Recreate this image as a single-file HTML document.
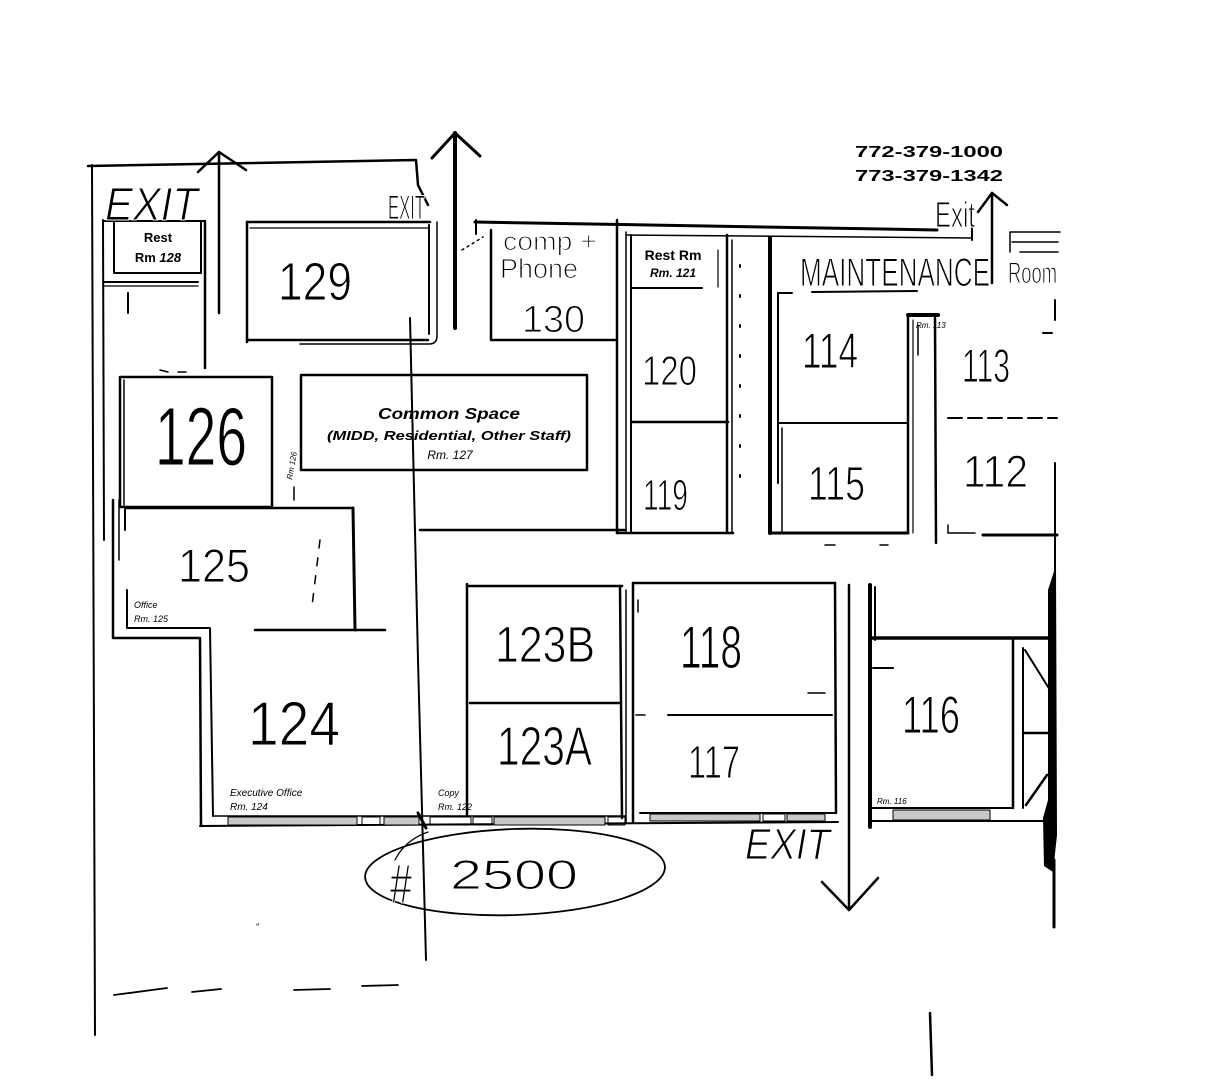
<!DOCTYPE html>
<html><head><meta charset="utf-8"><style>
html,body{margin:0;padding:0;background:#fff;}
svg{display:block}
text{font-family:"Liberation Sans",sans-serif;fill:#000}
.b{font-weight:bold}
.bi{font-weight:bold;font-style:italic}
.i{font-style:italic}
.hw{stroke:#fff;stroke-width:1.1px}
</style></head><body>
<svg width="1222" height="1080" viewBox="0 0 1222 1080" xmlns="http://www.w3.org/2000/svg">
<rect width="1222" height="1080" fill="#fff"/>
<g stroke="#000" fill="none" stroke-linecap="round" stroke-linejoin="round">
 <!-- left outer walls -->
 <path d="M92,165 L95,1035" stroke-width="2"/>
 <path d="M103,220 L104,540" stroke-width="2"/>
 <path d="M113,500 L113,638 L200,638 L201,826" stroke-width="2.5"/>
 <path d="M127,590 L127,628 L210,628 L213,816" stroke-width="2"/>
 <path d="M125,509 L125,530" stroke-width="2"/>
 <path d="M119,500 L119,560" stroke-width="1.5"/>
 <!-- top wall left -->
 <path d="M88,166 L416,160 L418,185 L428,205" stroke-width="2.5"/>
 <!-- exit arrow 1 -->
 <path d="M219,313 L219,152" stroke-width="2.5"/>
 <path d="M198,172 L219,152 L246,170" stroke-width="2.5"/>
 <!-- rest rm 128 -->
 <rect x="114" y="221" width="87" height="52" stroke-width="2"/>
 <path d="M103,221 L205,221" stroke-width="2"/>
 <path d="M103,282 L198,282" stroke-width="2"/>
 <path d="M103,286 L198,286" stroke-width="1.2"/>
 <path d="M205,221 L205,368" stroke-width="2.5"/>
 <path d="M128,293 L128,313" stroke-width="2"/>
 <path d="M160,370 L168,372 M178,372 L186,372" stroke-width="1.5"/>
 <!-- 126 -->
 <rect x="120" y="377" width="152" height="130" stroke-width="2.5"/>
 <path d="M124,380 L124,505" stroke-width="1.5"/>
 <path d="M294,487 L294,500" stroke-width="1.5"/>
 <!-- 125 -->
 <path d="M126,508 L353,508" stroke-width="2.5"/>
 <path d="M353,508 L355,630" stroke-width="3"/>
 <path d="M255,630 L385,630" stroke-width="2.5"/>
 <path d="M320,540 L312,606" stroke-width="1.5" stroke-dasharray="8 10"/>
 <!-- common space -->
 <rect x="301" y="375" width="286" height="95" stroke-width="2.5"/>
 <!-- 129 -->
 <path d="M247,222 L430,222" stroke-width="2.5"/>
 <path d="M250,228 L428,228" stroke-width="1.2"/>
 <path d="M247,222 L247,342" stroke-width="2.5"/>
 <path d="M247,340 L428,340" stroke-width="2.5"/>
 <path d="M429,225 L429,334" stroke-width="2"/>
 <path d="M437,222 L437,336 Q437,344 429,344 L300,344" stroke-width="1.5"/>
 <!-- long vertical -->
 <path d="M410,318 L418,660 L426,960" stroke-width="2"/>
 <!-- exit arrow 2 -->
 <path d="M455,328 L455,133" stroke-width="4"/>
 <path d="M432,158 L455,133 L480,156" stroke-width="3"/>
 <!-- top right wall -->
 <path d="M475,222 L937,230" stroke-width="3"/>
 <path d="M627,235 L972,238" stroke-width="1.5"/>
 <path d="M972,228 L972,240" stroke-width="2"/>
 <path d="M476,220 L476,234" stroke-width="2"/>
 <path d="M462,250 L483,237" stroke-width="1.5" stroke-dasharray="2 4"/>
 <!-- comp + phone 130 -->
 <path d="M491,230 L491,340 L616,340" stroke-width="2.5"/>
 <path d="M617,220 L617,533" stroke-width="2.5"/>
 <path d="M626,232 L626,533" stroke-width="1.5"/>
 <!-- rest rm 121 / 120 / 119 -->
 <path d="M631,235 L631,533" stroke-width="2"/>
 <path d="M632,288 L702,288" stroke-width="2"/>
 <path d="M632,422 L728,422" stroke-width="2.5"/>
 <path d="M617,533 L733,533" stroke-width="2.5"/>
 <path d="M727,235 L727,533" stroke-width="2.5"/>
 <path d="M732,240 L732,533" stroke-width="1.5"/>
 <path d="M718,250 L718,287" stroke-width="1.2"/>
 <!-- dotted column -->
 <path d="M740,265 L740,490" stroke-width="2" stroke-dasharray="2 28"/>
 <!-- maintenance block -->
 <path d="M770,238 L770,533" stroke-width="4"/>
 <path d="M778,293 L778,483" stroke-width="2"/>
 <path d="M778,293 L792,293" stroke-width="2"/>
 <path d="M812,292 L917,291" stroke-width="2"/>
 <path d="M778,423 L908,423" stroke-width="2"/>
 <path d="M782,428 L782,532" stroke-width="1.5"/>
 <path d="M770,533 L908,533" stroke-width="3"/>
 <path d="M908,315 L908,533" stroke-width="2.5"/>
 <path d="M913,320 L913,533" stroke-width="1.2"/>
 <path d="M935,318 L936,543" stroke-width="2.5"/>
 <path d="M908,315 L938,315" stroke-width="4"/>
 <path d="M918,325 L918,355" stroke-width="1.5"/>
 <!-- 113 / 112 -->
 <path d="M948,418 L1057,418" stroke-width="2" stroke-dasharray="14 6"/>
 <path d="M948,525 L948,533 L975,533" stroke-width="1.5"/>
 <path d="M983,535 L1057,535" stroke-width="3"/>
 <path d="M1043,333 L1052,333" stroke-width="2"/>
 <path d="M1055,300 L1055,320 M1055,463 L1055,830" stroke-width="2"/>
 <path d="M825,545 L835,545 M880,545 L888,545" stroke-width="1.5"/>
 <!-- room box top right -->
 <path d="M1010,232 L1060,232 M1010,232 L1010,252 M1012,242 L1058,242 M1020,252 L1058,252" stroke-width="1.5"/>
 <!-- exit arrow 3 -->
 <path d="M992,283 L992,193" stroke-width="2.5"/>
 <path d="M978,212 L992,193 L1007,205" stroke-width="2.5"/>
 <!-- bottom corridor -->
 <path d="M420,530 L625,530" stroke-width="2.5"/>
 <!-- 123B/123A -->
 <path d="M467,584 L467,815" stroke-width="2.5"/>
 <path d="M467,586 L622,586" stroke-width="2.5"/>
 <path d="M470,703 L620,703" stroke-width="2.5"/>
 <path d="M620,586 L622,818" stroke-width="2.5"/>
 <path d="M626,590 L626,822" stroke-width="1.5"/>
 <!-- 118/117 -->
 <path d="M633,583 L633,822" stroke-width="2.5"/>
 <path d="M633,583 L835,583" stroke-width="2.5"/>
 <path d="M835,583 L836,813" stroke-width="2.5"/>
 <path d="M668,715 L832,715" stroke-width="2"/>
 <path d="M636,715 L645,715 M808,693 L825,693 M638,600 L638,612" stroke-width="1.5"/>
 <!-- bottom walls -->
 <path d="M200,826 L838,822" stroke-width="2"/>
 <path d="M213,816 L625,816" stroke-width="1.5"/>
 <path d="M640,813 L836,813" stroke-width="2"/>
 <!-- window strips -->
 <g stroke-width="1" fill="#c8c8c8">
  <rect x="228" y="817" width="129" height="8"/>
  <rect x="384" y="817" width="35" height="8"/>
  <rect x="494" y="817" width="111" height="8"/>
  <rect x="650" y="814" width="110" height="7"/>
  <rect x="787" y="814" width="38" height="7"/>
  <rect x="893" y="810" width="97" height="10"/>
 </g>
 <g stroke-width="1">
  <rect x="362" y="817" width="18" height="8"/>
  <rect x="430" y="817" width="41" height="8"/>
  <rect x="473" y="817" width="19" height="8"/>
  <rect x="608" y="817" width="17" height="8"/>
  <rect x="763" y="814" width="22" height="7"/>
 </g>
 <path d="M418,813 L426,828" stroke-width="3"/>
 <!-- exit arrow 4 -->
 <path d="M849,585 L849,910" stroke-width="2.5"/>
 <path d="M822,882 L849,910 L878,878" stroke-width="2.5"/>
 <!-- 116 -->
 <path d="M870,585 L870,827" stroke-width="4"/>
 <path d="M875,587 L875,640" stroke-width="2"/>
 <path d="M870,638 L1053,638" stroke-width="3.5"/>
 <path d="M1013,640 L1013,808" stroke-width="2.5"/>
 <path d="M870,808 L1013,808" stroke-width="2"/>
 <path d="M870,821 L1043,821" stroke-width="2"/>
 <path d="M1023,648 L1023,808" stroke-width="2"/>
 <path d="M1025,650 L1050,690" stroke-width="2"/>
 <path d="M1023,733 L1050,733" stroke-width="2.5"/>
 <path d="M1026,805 L1047,775" stroke-width="2.5"/>
 <path d="M873,668 L893,668" stroke-width="2"/>
 <path d="M1054,860 L1054,927" stroke-width="3"/>
 <!-- ellipse -->
 <ellipse cx="515" cy="872" rx="150" ry="43" transform="rotate(-2 515 872)" stroke-width="1.8"/>
 <path d="M395,860 Q405,840 428,832" stroke-width="1.2"/>
 <!-- dashed bottom -->
 <path d="M114,995 L167,988 M192,992 L221,989 M294,990 L330,989 M362,986 L398,985" stroke-width="1.8"/>
 <path d="M930,1013 L932,1075" stroke-width="2.5"/>
</g>
<!-- thick black right wall -->
<path d="M1048,590 L1056,565 L1057,835 L1053,872 L1044,866 L1043,818 L1048,800 Z" fill="#000"/>

<!-- phones -->
<text class="b" x="855" y="157" font-size="16" textLength="148" lengthAdjust="spacingAndGlyphs">772-379-1000</text>
<text class="b" x="855" y="181" font-size="16" textLength="148" lengthAdjust="spacingAndGlyphs">773-379-1342</text>

<!-- exits -->
<text class="i hw" x="105" y="220" font-size="46" textLength="93" lengthAdjust="spacingAndGlyphs">EXIT</text>
<text class="hw" x="388" y="219" font-size="34" textLength="37" lengthAdjust="spacingAndGlyphs">EXIT</text>
<text class="hw" x="935" y="227" font-size="36" textLength="40" lengthAdjust="spacingAndGlyphs">Exit</text>
<text class="i hw" x="745" y="859" font-size="44" textLength="85" lengthAdjust="spacingAndGlyphs">EXIT</text>

<!-- small printed labels -->
<text class="b" x="158" y="242" font-size="13" text-anchor="middle">Rest</text>
<text class="b" x="158" y="262" font-size="13" text-anchor="middle">Rm <tspan class="bi">128</tspan></text>
<text class="b" x="673" y="260" font-size="14" text-anchor="middle">Rest Rm</text>
<text class="bi" x="673" y="277" font-size="12" text-anchor="middle">Rm. 121</text>
<text class="bi" x="449" y="419" font-size="16" text-anchor="middle" textLength="142" lengthAdjust="spacingAndGlyphs">Common Space</text>
<text class="bi" x="449" y="440" font-size="13" text-anchor="middle" textLength="244" lengthAdjust="spacingAndGlyphs">(MIDD, Residential, Other Staff)</text>
<text class="i" x="450" y="459" font-size="12" text-anchor="middle">Rm. 127</text>

<!-- tiny handwritten labels -->
<text class="i" x="134" y="608" font-size="9">Office</text>
<text class="i" x="134" y="622" font-size="9">Rm. 125</text>
<text class="i" x="230" y="796" font-size="10">Executive Office</text>
<text class="i" x="230" y="810" font-size="10">Rm. 124</text>
<text class="i" x="438" y="796" font-size="9">Copy</text>
<text class="i" x="438" y="810" font-size="9">Rm. 122</text>
<text class="i" x="877" y="804" font-size="8">Rm. 116</text>
<text class="i" x="916" y="328" font-size="8">Rm. 113</text>
<text class="i" x="0" y="0" font-size="8" transform="translate(292,480) rotate(-80)">Rm 126</text>
<text x="256" y="930" font-size="9">''</text>

<!-- handwritten room numbers -->
<g class="hw">
<text x="278" y="300" font-size="54" textLength="74" lengthAdjust="spacingAndGlyphs">129</text>
<text x="503" y="250" font-size="26" textLength="94" lengthAdjust="spacingAndGlyphs">comp +</text>
<text x="500" y="278" font-size="28" textLength="78" lengthAdjust="spacingAndGlyphs">Phone</text>
<text x="522" y="332" font-size="38" textLength="63" lengthAdjust="spacingAndGlyphs">130</text>
<text x="642" y="385" font-size="42" textLength="55" lengthAdjust="spacingAndGlyphs">120</text>
<text x="643" y="510" font-size="44" textLength="45" lengthAdjust="spacingAndGlyphs">119</text>
<text x="800" y="286" font-size="40" textLength="190" lengthAdjust="spacingAndGlyphs">MAINTENANCE</text>
<text x="1008" y="283" font-size="30" textLength="49" lengthAdjust="spacingAndGlyphs">Room</text>
<text x="802" y="368" font-size="50" textLength="56" lengthAdjust="spacingAndGlyphs">114</text>
<text x="808" y="500" font-size="48" textLength="57" lengthAdjust="spacingAndGlyphs">115</text>
<text x="962" y="382" font-size="47" textLength="48" lengthAdjust="spacingAndGlyphs">113</text>
<text x="963" y="487" font-size="45" textLength="65" lengthAdjust="spacingAndGlyphs">112</text>
<text x="155" y="465" font-size="83" textLength="92" lengthAdjust="spacingAndGlyphs">126</text>
<text x="178" y="582" font-size="47" textLength="72" lengthAdjust="spacingAndGlyphs">125</text>
<text x="248" y="745" font-size="62" textLength="92" lengthAdjust="spacingAndGlyphs">124</text>
<text x="495" y="662" font-size="51" textLength="100" lengthAdjust="spacingAndGlyphs">123B</text>
<text x="497" y="765" font-size="55" textLength="95" lengthAdjust="spacingAndGlyphs">123A</text>
<text x="680" y="668" font-size="60" textLength="62" lengthAdjust="spacingAndGlyphs">118</text>
<text x="688" y="778" font-size="46" textLength="52" lengthAdjust="spacingAndGlyphs">117</text>
<text x="902" y="733" font-size="53" textLength="58" lengthAdjust="spacingAndGlyphs">116</text>
<text x="390" y="903" font-size="56" textLength="22" lengthAdjust="spacingAndGlyphs">#</text>
<text x="450" y="889" font-size="42" textLength="128" lengthAdjust="spacingAndGlyphs">2500</text>
</g>
</svg>
</body></html>
